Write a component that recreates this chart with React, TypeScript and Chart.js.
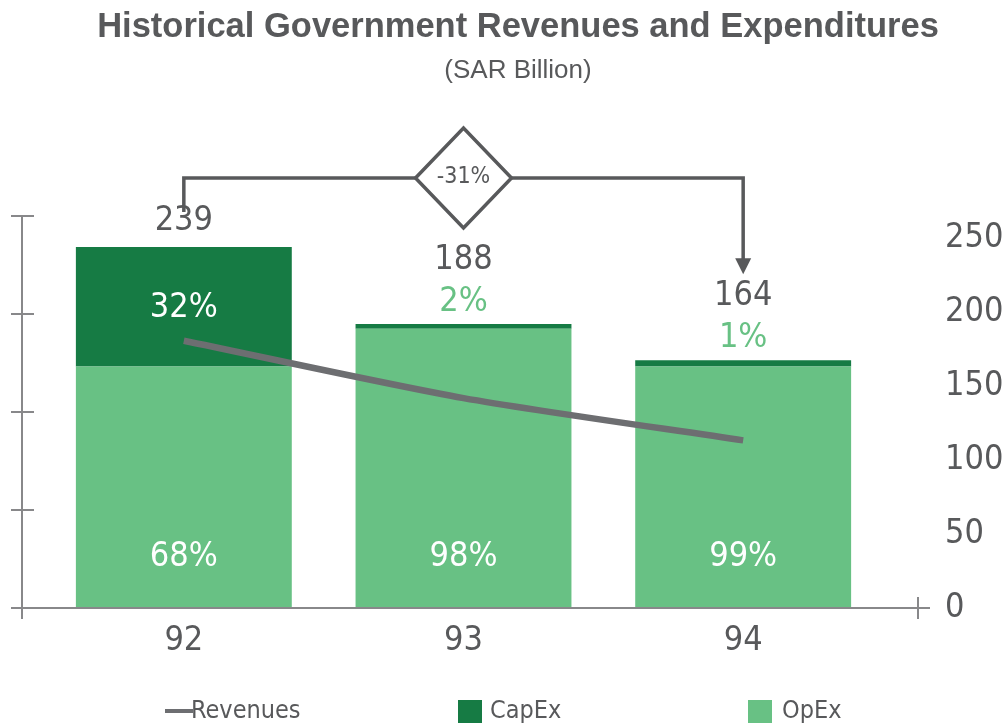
import React, { useEffect, useRef } from 'react';
import { Chart, registerables } from 'chart.js';

Chart.register(...registerables);

const categories = ['92', '93', '94'];
const revenues = [177, 139, 111];
const capex = [79, 3, 4];
const opex = [160, 185, 160];
const totalLabels = ['239', '188', '164'];
const capexPctLabels = ['32%', '2%', '1%'];
const opexPctLabels = ['68%', '98%', '99%'];
const rightTicks = [0, 50, 100, 150, 200, 250];
const leftTicks = [0, 1, 2, 3, 4];
const changeLabel = '-31%';
const titleText = 'Historical Government Revenues and Expenditures';
const subtitleText = '(SAR Billion)';

const DARK = '#167b44';
const LIGHT = '#68c184';
const LINE = '#6d6e71';
const TEXT = '#58595b';
const AXIS = '#88888a';
const NUM_FONT = "'Liberation Sans Narrow', 'DejaVu Sans Condensed', Roboto, sans-serif";
const SANS = "'Liberation Sans', Arial, sans-serif";

const annotPlugin = {
  id: 'annot',
  afterDraw(chart: any) {
    const { ctx, chartArea: ca, scales } = chart;
    const xs = scales.x;
    const ys = scales.y;
    const y1 = scales.y1;
    const y2 = scales.y2;
    const base = ys.getPixelForValue(0);
    ctx.save();

    // Title
    ctx.fillStyle = TEXT;
    ctx.textAlign = 'center';
    ctx.textBaseline = 'middle';
    ctx.font = `bold 34.5px ${SANS}`;
    ctx.fillText(titleText, 518, 27);
    ctx.font = `26px ${SANS}`;
    ctx.fillText(subtitleText, 518, 71);

    // Axes
    ctx.strokeStyle = AXIS;
    ctx.lineWidth = 2;
    const ax = ca.left - 22;
    ctx.beginPath();
    ctx.moveTo(ax, y1.getPixelForValue(4));
    ctx.lineTo(ax, base + 11);
    ctx.stroke();
    leftTicks.forEach((t) => {
      const py = y1.getPixelForValue(t);
      ctx.beginPath();
      ctx.moveTo(ax - 11, py);
      ctx.lineTo(ax + 12, py);
      ctx.stroke();
    });
    ctx.beginPath();
    ctx.moveTo(ax - 10, base);
    ctx.lineTo(ca.right + 47, base);
    ctx.stroke();
    ctx.beginPath();
    ctx.moveTo(ca.right + 35, base - 11);
    ctx.lineTo(ca.right + 35, base + 11);
    ctx.stroke();

    // Right tick labels
    ctx.fillStyle = TEXT;
    ctx.font = `34px ${NUM_FONT}`;
    ctx.textAlign = 'left';
    ctx.textBaseline = 'middle';
    rightTicks.forEach((t) => {
      ctx.fillText(String(t), ca.right + 62, y2.getPixelForValue(t));
    });

    // Category labels
    ctx.textAlign = 'center';
    categories.forEach((c, i) => {
      ctx.fillText(c, xs.getPixelForValue(i), base + 33);
    });

    // Bar labels
    const totalY: number[] = [];
    categories.forEach((c, i) => {
      const cx = xs.getPixelForValue(i);
      const top = ys.getPixelForValue(opex[i] + capex[i]);
      const mid = ys.getPixelForValue(opex[i]);
      const inside = capex[i] / (opex[i] + capex[i]) > 0.1;
      ctx.font = `34px ${NUM_FONT}`;
      if (inside) {
        ctx.fillStyle = '#ffffff';
        ctx.fillText(capexPctLabels[i], cx, (top + mid) / 2 + 1);
        ctx.fillStyle = TEXT;
        const ty = top - 26;
        ctx.fillText(totalLabels[i], cx, ty);
        totalY.push(ty);
      } else {
        ctx.fillStyle = LIGHT;
        ctx.fillText(capexPctLabels[i], cx, top - 22);
        ctx.fillStyle = TEXT;
        const ty = top - 64;
        ctx.fillText(totalLabels[i], cx, ty);
        totalY.push(ty);
      }
      ctx.fillStyle = '#ffffff';
      ctx.fillText(opexPctLabels[i], cx, base - 51);
    });

    // Bracket with diamond
    const xa = xs.getPixelForValue(0);
    const xc = xs.getPixelForValue(1);
    const xb = xs.getPixelForValue(2);
    const by = ca.top - 38;
    const dw = 48;
    const dh = 50;
    const tip = totalY[2] - 22;
    ctx.strokeStyle = TEXT;
    ctx.fillStyle = TEXT;
    ctx.lineWidth = 3.5;
    ctx.lineJoin = 'miter';
    ctx.beginPath();
    ctx.moveTo(xa, totalY[0] - 9);
    ctx.lineTo(xa, by);
    ctx.lineTo(xc - dw, by);
    ctx.stroke();
    ctx.beginPath();
    ctx.moveTo(xc - dw, by);
    ctx.lineTo(xc, by - dh);
    ctx.lineTo(xc + dw, by);
    ctx.lineTo(xc, by + dh);
    ctx.closePath();
    ctx.stroke();
    ctx.beginPath();
    ctx.moveTo(xc + dw, by);
    ctx.lineTo(xb, by);
    ctx.lineTo(xb, tip - 14);
    ctx.stroke();
    ctx.beginPath();
    ctx.moveTo(xb - 8, tip - 16);
    ctx.lineTo(xb + 8, tip - 16);
    ctx.lineTo(xb, tip);
    ctx.closePath();
    ctx.fill();
    ctx.font = `23px ${NUM_FONT}`;
    ctx.textAlign = 'center';
    ctx.fillText(changeLabel, xc, by - 1);

    // Legend
    const ly = 711;
    const ds = chart.data.datasets;
    const find = (name: string) => ds.find((d: any) => d.label === name);
    ctx.font = `25px ${NUM_FONT}`;
    ctx.textAlign = 'left';
    ctx.textBaseline = 'middle';
    ctx.strokeStyle = LINE;
    ctx.lineWidth = 4;
    ctx.beginPath();
    ctx.moveTo(165, ly);
    ctx.lineTo(193, ly);
    ctx.stroke();
    ctx.fillStyle = TEXT;
    ctx.fillText(find('Revenues').label, 191, ly);
    ctx.fillStyle = find('CapEx').backgroundColor;
    ctx.fillRect(458, ly - 11, 24, 23);
    ctx.fillStyle = TEXT;
    ctx.fillText(find('CapEx').label, 490, ly);
    ctx.fillStyle = find('OpEx').backgroundColor;
    ctx.fillRect(748, ly - 11, 24, 23);
    ctx.fillStyle = TEXT;
    ctx.fillText(find('OpEx').label, 782, ly);

    ctx.restore();
  },
};

export default function App() {
  const ref = useRef<HTMLCanvasElement | null>(null);
  useEffect(() => {
    if (!ref.current) return;
    const chart = new Chart(ref.current, {
      type: 'bar',
      data: {
        labels: categories,
        datasets: [
          {
            type: 'line',
            label: 'Revenues',
            data: revenues,
            borderColor: LINE,
            backgroundColor: LINE,
            borderWidth: 6.5,
            pointRadius: 0,
            tension: 0.25,
            stack: 'rev',
            order: 0,
            yAxisID: 'y',
          } as any,
          {
            label: 'OpEx',
            data: opex,
            backgroundColor: LIGHT,
            stack: 'exp',
            order: 1,
            barPercentage: 0.772,
            categoryPercentage: 1,
          },
          {
            label: 'CapEx',
            data: capex,
            backgroundColor: DARK,
            stack: 'exp',
            order: 2,
            barPercentage: 0.772,
            categoryPercentage: 1,
          },
        ],
      },
      options: {
        responsive: false,
        animation: false,
        layout: { padding: { left: 44, right: 125, top: 216, bottom: 119 } },
        plugins: { legend: { display: false }, tooltip: { enabled: false } },
        scales: {
          x: { display: false, stacked: true },
          y: { display: false, stacked: true, min: 0, max: 392 / 1.51 },
          y1: { display: false, min: 0, max: 4 },
          y2: { display: false, min: 0, max: 392 / 1.48 },
        },
      },
      plugins: [annotPlugin],
    });
    return () => chart.destroy();
  }, []);
  return (
    <div style={{ position: 'fixed', left: 0, top: 0, width: 1008, height: 727, background: '#fff' }}>
      <canvas ref={ref} width={1008} height={727} style={{ display: 'block' }} />
    </div>
  );
}
